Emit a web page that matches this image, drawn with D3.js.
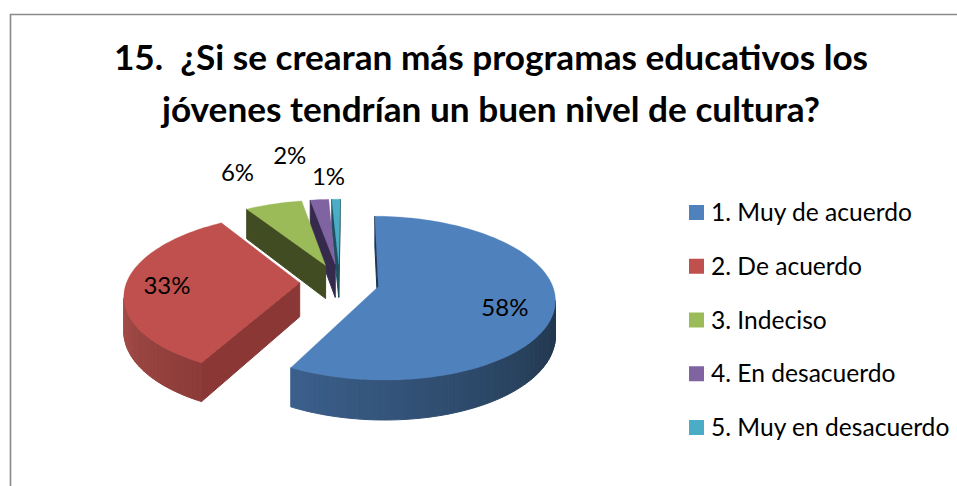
<!DOCTYPE html>
<html><head><meta charset="utf-8">
<script src="https://cdn.jsdelivr.net/npm/d3@7/dist/d3.min.js"></script>
<style>html,body{margin:0;padding:0;background:#fff;overflow:hidden}svg{display:block}text{font-family:Lato,sans-serif;fill:#000;white-space:pre}</style>
</head><body><svg id="c" width="957" height="486"></svg>
<script>
const titleLines = ["15.  ¿Si se crearan más programas educativos los", "jóvenes tendrían un buen nivel de cultura?"];
const categories = ["1. Muy de acuerdo", "2. De acuerdo", "3. Indeciso", "4. En desacuerdo", "5. Muy en desacuerdo"];
const values = [57.6, 33.3, 6.2, 2.0, 0.9];
const topColors = ["#4f81bd", "#c0504d", "#9bbb59", "#8064a2", "#4bacc6"];
const radialColors = ["#1c3350", "#8a3735", "#414c22", "#352a4c", "#1f5060"];
const wallFrom = ["#22384f", "#8c3b39", "#414c22", "#352a4c", "#1f5060"];
const wallTo = ["#3d6391", "#a84f4b", "#414c22", "#352a4c", "#1f5060"];

const svg = d3.select("#c");
svg.append("path").attr("d", "M10.5,486V14.5H957").attr("fill", "none").attr("stroke", "#8a8a8a").attr("stroke-width", 1.6);

const titleSize = 35.2, titleY = [70, 122];
svg.selectAll("text.t").data(titleLines).join("text").attr("class", "t")
  .attr("x", 491).attr("y", (d, i) => titleY[i]).attr("text-anchor", "middle")
  .attr("font-size", titleSize).attr("font-weight", 700).text(d => d);

// 3-D pie projection
const persp = 0.141, explode = 0.23, depth = 34;
const xS = d3.scaleLinear().domain([-1, 1]).range([339.5 - 173, 339.5 + 173]);
const yS = d3.scaleLinear().domain([-1, 1]).range([282 + 79, 282 - 79]);
const proj = (u, v, z) => {
  const w = 1 + persp * v;
  return [xS(u / w), yS(v / w) + z * depth / w];
};
const rot = 0.5 * Math.PI / 180;
const arcs = d3.pie().sort(null).startAngle(rot).endAngle(rot + 2 * Math.PI)(values);
const line = d3.line();

const layer = svg.append("g");
const order = d3.range(values.length).reverse();
order.forEach(i => {
  const a = arcs[i], mid = (a.startAngle + a.endAngle) / 2;
  const ox = explode * Math.sin(mid), oy = explode * Math.cos(mid);
  const P = (r, t, z) => proj(ox + r * Math.sin(t), oy + r * Math.cos(t), z);
  const steps = Math.max(6, Math.ceil((a.endAngle - a.startAngle) / 0.03));
  const ts = d3.range(steps + 1).map(k => a.startAngle + (a.endAngle - a.startAngle) * k / steps);
  const g = layer.append("g");
  const wallQuad = (t0, r0, t1, r1, col) => {
    const p = P(r0, t0, 0), q = P(r1, t1, 0);
    if (q[0] - p[0] >= 0) return;            // back-facing on screen
    const p2 = P(r0, t0, 1), q2 = P(r1, t1, 1);
    g.append("path").attr("d", line([p, q, q2, p2]) + "Z").attr("fill", col).attr("stroke", col).attr("stroke-width", 1);
  };
  // wall shade runs from the darker right side round to the lighter left side
  const shade = i === 1
    ? d3.scaleLinear().domain([Math.PI * 1.15, Math.PI * 1.5]).range([wallFrom[i], wallTo[i]]).clamp(true)
    : d3.scaleLinear().domain([Math.PI * 0.62, Math.PI * 1.2]).range([wallFrom[i], wallTo[i]]).clamp(true);
  wallQuad(a.startAngle, 0, a.startAngle, 1, radialColors[i]);
  for (let k = 0; k < steps; k++) {
    wallQuad(ts[k], 1, ts[k + 1], 1, shade((ts[k] + ts[k + 1]) / 2));
  }
  wallQuad(a.endAngle, 1, a.endAngle, 0, radialColors[i]);
  const top = [P(0, 0, 0)].concat(ts.map(t => P(1, t, 0)));
  g.append("path").attr("d", line(top) + "Z").attr("fill", topColors[i]).attr("stroke", topColors[i]).attr("stroke-width", 0.3);
});

// data labels: anchored on each slice with a per-slice radial factor and nudge
const labelR = [0.74, 0.74, 1.2, 1.2, 1.2];
const labelNudge = [[-3, 7], [-4, 1], [-27, -20], [-27, -32], [-7, -11]];
const labelPos = (d, i) => {
  const m = (d.startAngle + d.endAngle) / 2, r = explode + labelR[i];
  const p = proj(r * Math.sin(m), r * Math.cos(m), 0);
  return [p[0] + labelNudge[i][0], p[1] + 8 + labelNudge[i][1]];
};
svg.selectAll("text.l").data(arcs).join("text").attr("class", "l")
  .attr("text-anchor", "middle").attr("font-size", 24)
  .attr("x", (d, i) => labelPos(d, i)[0])
  .attr("y", (d, i) => labelPos(d, i)[1])
  .text(d => d3.format(".0f")(d.value) + "%");

// legend
const ly = d3.scalePoint().domain(categories).range([205, 420]);
const lg = svg.selectAll("g.lg").data(categories).join("g").attr("class", "lg")
  .attr("transform", d => `translate(689,${ly(d)})`);
lg.append("rect").attr("width", 15).attr("height", 15).attr("fill", (d, i) => topColors[i]);
lg.append("text").attr("x", 22).attr("y", 16).attr("font-size", 24.6).text(d => d);
</script></body></html>
